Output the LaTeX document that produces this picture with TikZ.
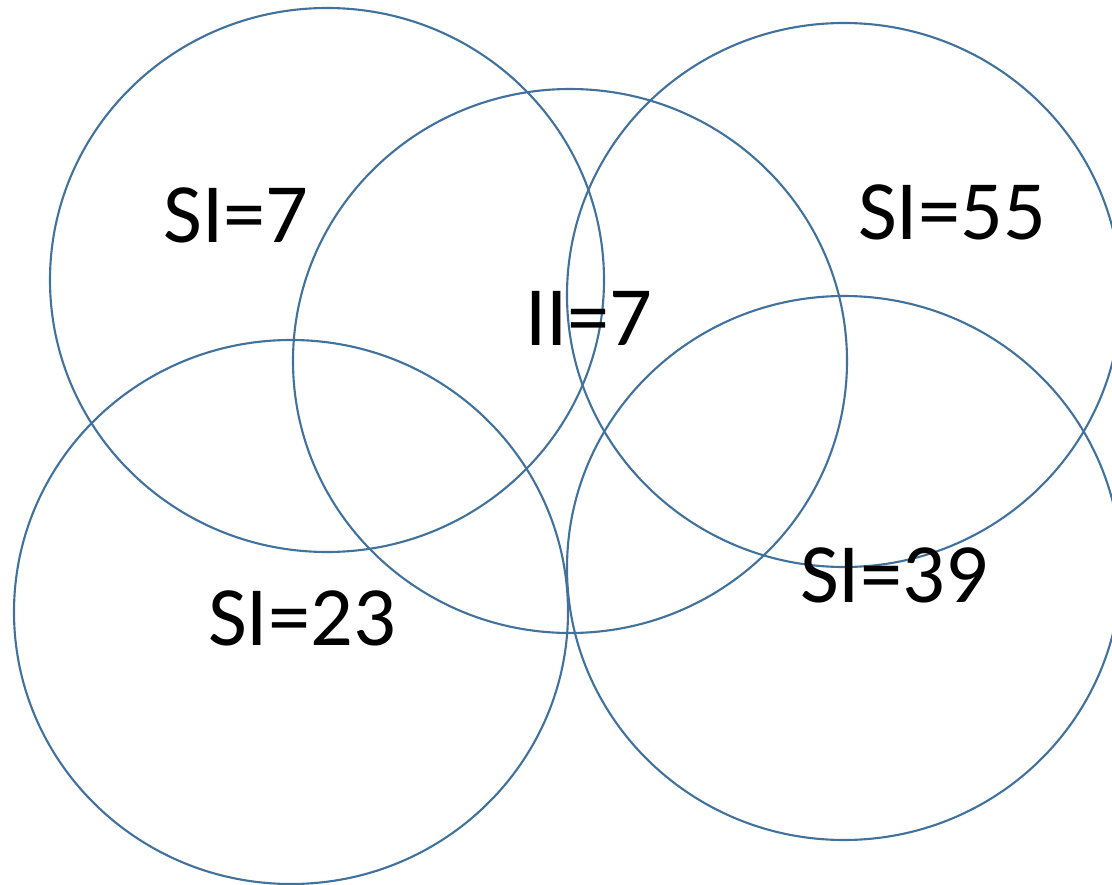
\documentclass[tikz,border=0pt]{standalone}
\usepackage{fontspec}
\setmainfont{Carlito}
\usetikzlibrary{positioning}
\definecolor{ringblue}{RGB}{65,113,157}
\tikzset{
  ring/.style={draw=ringblue,line width=0.6pt},
  cell/.style={inner sep=0pt,text depth=0pt,font=\fontsize{24}{28}\selectfont}
}

\begin{document}
\begin{tikzpicture}[x=0.01cm,y=-0.01cm]
  \useasboundingbox (0,0) rectangle (1112,885); % 画像と同じ大きさの枠
  \draw[ring] (327,280) ellipse [x radius=277,y radius=272]; % 左上の円
  \draw[ring] (570,361) ellipse [x radius=277,y radius=272]; % 中央の円
  \draw[ring] (844,295) ellipse [x radius=277,y radius=272]; % 右上の円（右端は切れる）
  \draw[ring] (291,612) ellipse [x radius=277,y radius=272]; % 左下の円
  \draw[ring] (844,568) ellipse [x radius=277,y radius=272]; % 右下の円（右端は切れる）
  \node[cell] (si7)  at (236,215) {SI=7};
  \node[cell] (ii7)  at (589,318) {II=7};
  \node[cell] (si55) at (952,212) {SI=55};
  \node[cell] (si23) at (302,618) {SI=23};
  \node[cell] (si39) at (894,575) {SI=39};
\end{tikzpicture}
\end{document}
